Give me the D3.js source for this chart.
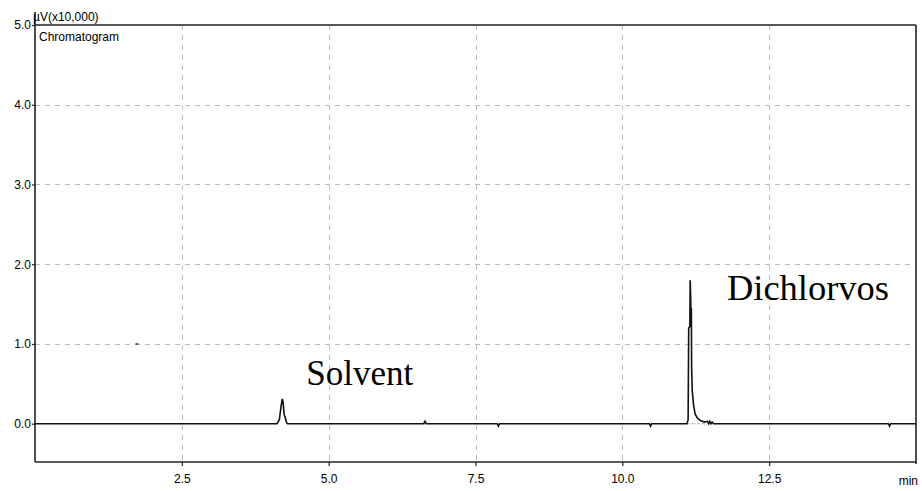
<!DOCTYPE html>
<html>
<head>
<meta charset="utf-8">
<script src="https://cdn.jsdelivr.net/npm/d3@7"></script>
<style>
  html, body { margin: 0; padding: 0; background: #fff; }
  svg { display: block; }
  .tick-label { font-family: Arial, "Liberation Sans", sans-serif; font-size: 12px; fill: #000; }
  .peak-label { font-family: "Times New Roman", "Liberation Serif", serif; font-size: 35px; fill: #000; }
</style>
</head>
<body>
<svg id="chart" width="922" height="491"></svg>
<script>
// Retention time axis (min) and detector response axis (µV x 10,000)
const xTicks = [2.5, 5.0, 7.5, 10.0, 12.5];
const yTicks = [0.0, 1.0, 2.0, 3.0, 4.0, 5.0];
const xDomain = [0, 15];
const yDomain = [-0.48, 5.0];

// Detector trace: retention time (min)
const traceTime = [
  0.00, 4.12, 4.16, 4.19, 4.21, 4.225, 4.24, 4.26, 4.28, 4.30,
  6.62, 6.64, 6.66,
  7.87, 7.89, 7.91,
  10.46, 10.48, 10.50,
  11.10, 11.12, 11.13, 11.15, 11.155, 11.165, 11.17, 11.175, 11.18, 11.19,
  11.21, 11.24, 11.28, 11.33, 11.40, 11.45, 11.47, 11.49, 11.51, 11.53, 11.56,
  14.53, 14.55, 14.57,
  15.00
];
// Detector trace: response (µV x 10,000)
const traceSignal = [
  0.00, 0.00, 0.05, 0.22, 0.31, 0.27, 0.12, 0.08, 0.02, 0.00,
  0.00, 0.03, 0.00,
  0.00, -0.03, 0.00,
  0.00, -0.03, 0.00,
  0.00, 0.05, 1.20, 1.22, 1.80, 1.55, 1.25, 1.45, 0.70, 0.42,
  0.25, 0.12, 0.07, 0.04, 0.02, 0.03, 0.00, 0.03, 0.00, 0.02, 0.00,
  0.00, -0.03, 0.00,
  0.00
];

// Integration baseline drawn under the Dichlorvos peak
const baselineTime = [11.10, 11.56];
const baselineSignal = [0.00, 0.00];

// Stray detector spike on the 1.0 gridline
const spikeTime = [1.71, 1.76];
const spikeSignal = [1.0, 1.0];

// Peak annotations
const peakNames = ["Solvent", "Dichlorvos"];
const peakLabelTime = [4.62, 11.78];
const peakLabelSignal = [0.49, 1.55];
const peakLabelSize = [35, 36.5];

const svg = d3.select("#chart");
const plotLeft = 35, plotRight = 916, plotTop = 25, plotBottom = 462;

const x = d3.scaleLinear().domain(xDomain).range([plotLeft, plotRight]);
const y = d3.scaleLinear().domain(yDomain).range([plotBottom, plotTop]);

// Dashed grid
const grid = svg.append("g").attr("stroke", "#bdbdbd").attr("stroke-width", 1).attr("stroke-dasharray", "5,5");
grid.selectAll("line.gx").data(xTicks).join("line")
  .attr("x1", d => Math.round(x(d)) + 0.5).attr("x2", d => Math.round(x(d)) + 0.5)
  .attr("y1", plotTop).attr("y2", plotBottom);
grid.selectAll("line.gy").data(yTicks.filter(d => d > 0 && d < 5)).join("line")
  .attr("x1", plotLeft).attr("x2", plotRight)
  .attr("y1", d => Math.round(y(d)) + 0.5).attr("y2", d => Math.round(y(d)) + 0.5);

// Axes
const xAxis = d3.axisBottom(x).tickValues(xTicks).tickFormat(d3.format(".1f")).tickSize(4).tickPadding(4);
const yAxis = d3.axisLeft(y).tickValues(yTicks).tickFormat(d3.format(".1f")).tickSize(3).tickPadding(1);

const gx = svg.append("g").attr("transform", `translate(0,${plotBottom})`).call(xAxis);
const gy = svg.append("g").attr("transform", `translate(${plotLeft},0)`).call(yAxis);
[gx, gy].forEach(g => {
  g.select(".domain").remove();
  g.selectAll(".tick line").attr("stroke", "#222").attr("stroke-width", 1.2);
  g.selectAll(".tick text").attr("class", "tick-label").attr("fill", "#000");
});
gx.selectAll(".tick text").attr("dy", "1.1em");

// Frame
const frame = svg.append("g").attr("stroke", "#222").attr("stroke-width", 1.6).attr("fill", "none");
frame.append("line").attr("x1", plotLeft).attr("x2", plotRight).attr("y1", plotTop).attr("y2", plotTop);
frame.append("line").attr("x1", plotLeft).attr("x2", plotRight).attr("y1", plotBottom).attr("y2", plotBottom);
frame.append("line").attr("x1", plotLeft).attr("x2", plotLeft).attr("y1", 12).attr("y2", plotBottom);
frame.append("line").attr("x1", plotRight).attr("x2", plotRight).attr("y1", plotTop).attr("y2", plotBottom + 2);

// Axis titles
svg.append("text").attr("class", "tick-label").attr("x", 33).attr("y", 21).text("µV(x10,000)");
svg.append("text").attr("class", "tick-label").attr("x", 39).attr("y", 41).text("Chromatogram");
svg.append("text").attr("class", "tick-label").attr("x", 918).attr("y", 485).attr("text-anchor", "end").text("min");

const line = d3.line().x(d => x(d[0])).y(d => y(d[1]));

// Baseline under peak
svg.append("path")
  .datum(d3.zip(baselineTime, baselineSignal))
  .attr("d", line).attr("fill", "none").attr("stroke", "#aaa").attr("stroke-width", 1).attr("stroke-dasharray", "3,2");

// Stray spike
svg.append("path")
  .datum(d3.zip(spikeTime, spikeSignal))
  .attr("d", line).attr("fill", "none").attr("stroke", "#333").attr("stroke-width", 1.5);

// Trace
svg.append("path")
  .datum(d3.zip(traceTime, traceSignal))
  .attr("d", line).attr("fill", "none").attr("stroke", "#111").attr("stroke-width", 1.6)
  .attr("stroke-linejoin", "miter");

// Peak labels
svg.selectAll("text.peak").data(peakNames).join("text")
  .attr("class", "peak-label")
  .attr("x", (d, i) => x(peakLabelTime[i]))
  .attr("y", (d, i) => y(peakLabelSignal[i]))
  .style("font-size", (d, i) => peakLabelSize[i] + "px")
  .text(d => d);
</script>
</body>
</html>
